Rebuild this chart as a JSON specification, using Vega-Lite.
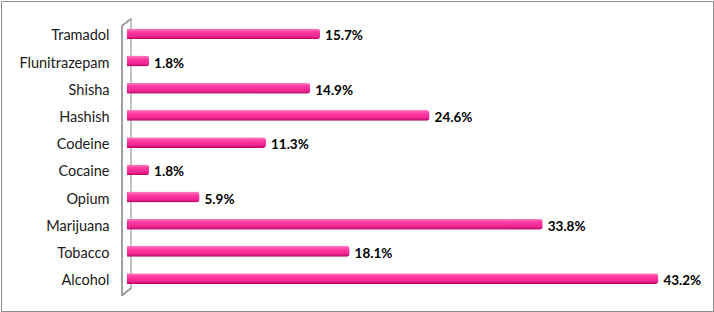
{
  "$schema": "https://vega.github.io/schema/vega-lite/v6.json",
  "autosize": {"type": "none"},
  "padding": 1,
  "width": 712,
  "height": 310,
  "background": "white",
  "config": {"view": {"stroke": "#8c8c8c", "strokeWidth": 1}},
  "data": {"values": [
    {"drug": "Tramadol", "pct": 15.7, "label": "15.7%"},
    {"drug": "Flunitrazepam", "pct": 1.8, "label": "1.8%"},
    {"drug": "Shisha", "pct": 14.9, "label": "14.9%"},
    {"drug": "Hashish", "pct": 24.6, "label": "24.6%"},
    {"drug": "Codeine", "pct": 11.3, "label": "11.3%"},
    {"drug": "Cocaine", "pct": 1.8, "label": "1.8%"},
    {"drug": "Opium", "pct": 5.9, "label": "5.9%"},
    {"drug": "Marijuana", "pct": 33.8, "label": "33.8%"},
    {"drug": "Tobacco", "pct": 18.1, "label": "18.1%"},
    {"drug": "Alcohol", "pct": 43.2, "label": "43.2%"}
  ]},
  "encoding": {
    "y": {"field": "drug", "type": "nominal",
      "scale": {"domain": ["Tramadol", "Flunitrazepam", "Shisha", "Hashish", "Codeine", "Cocaine", "Opium", "Marijuana", "Tobacco", "Alcohol"], "paddingInner": 0.6, "paddingOuter": 1.18, "align": 0.55},
      "axis": {"title": null, "ticks": false, "domain": false, "grid": false, "offset": -108, "labelPadding": 0,
        "labelFont": "Lato", "labelFontSize": 14.5, "labelColor": "#1a1a1a"}}
  },
  "layer": [
    {
      "mark": {"type": "rule", "color": "#c4c4c4", "strokeWidth": 1, "yOffset": -17.5, "y2Offset": 7},
      "encoding": {
        "x": {"datum": 0.33, "type": "quantitative", "scale": {"domain": [-10.24, 47.64], "nice": false}, "axis": null},
        "y": {"datum": "Tramadol"},
        "y2": {"datum": "Alcohol"}
      }
    },
    {
      "mark": {"type": "rule", "color": "#a0a0a0", "strokeWidth": 1.2, "yOffset": -10.5, "y2Offset": 14.5},
      "encoding": {
        "x": {"datum": -0.41, "type": "quantitative"},
        "y": {"datum": "Tramadol"},
        "y2": {"datum": "Alcohol"}
      }
    },
    {
      "mark": {"type": "rule", "color": "#a0a0a0", "strokeWidth": 1.2, "yOffset": -10.5, "y2Offset": -17.5},
      "encoding": {
        "x": {"datum": -0.41, "type": "quantitative"},
        "x2": {"datum": 0.33},
        "y": {"datum": "Tramadol"},
        "y2": {"datum": "Tramadol"}
      }
    },
    {
      "mark": {"type": "rule", "color": "#a0a0a0", "strokeWidth": 1.2, "yOffset": 14.5, "y2Offset": 7},
      "encoding": {
        "x": {"datum": -0.41, "type": "quantitative"},
        "x2": {"datum": 0.33},
        "y": {"datum": "Alcohol"},
        "y2": {"datum": "Alcohol"}
      }
    },
    {
      "mark": {"type": "bar", "cornerRadiusEnd": 3, "yOffset": -2.5,
        "color": {"gradient": "linear", "x1": 0, "y1": 0, "x2": 0, "y2": 1,
          "stops": [{"offset": 0, "color": "#ff7cc0"}, {"offset": 0.35, "color": "#ff3aa0"}, {"offset": 0.75, "color": "#ee2590"}, {"offset": 1, "color": "#b0005f"}]}},
      "encoding": {
        "x": {"field": "pct", "type": "quantitative"}
      }
    },
    {
      "mark": {"type": "text", "align": "left", "baseline": "middle", "dx": 5, "dy": 0, "font": "Lato", "fontSize": 13.5, "fontWeight": "bold", "color": "#000000"},
      "encoding": {
        "x": {"field": "pct", "type": "quantitative"},
        "text": {"field": "label", "type": "nominal"}
      }
    }
  ]
}
